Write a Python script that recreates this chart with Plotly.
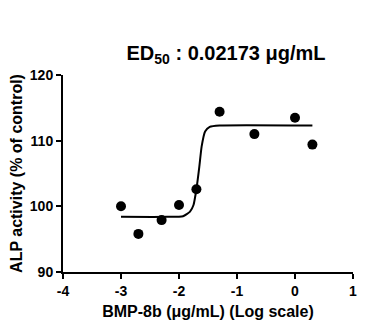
import plotly.graph_objects as go

# Measured points (log10 concentration, % of control)
log_conc = [-3.0, -2.7, -2.3, -2.0, -1.7, -1.3, -0.7, 0.0, 0.3]
activity = [100.0, 95.8, 97.9, 100.2, 102.6, 114.4, 111.0, 113.5, 109.4]

# Fitted curve
curve_x = [-3.0, -2.2, -1.93, -1.81, -1.75, -1.70, -1.65, -1.61, -1.55, -1.47, -1.3, 0.3]
curve_y = [98.4, 98.4, 98.5, 99.2, 100.2, 102.6, 106.0, 109.1, 111.4, 112.1, 112.3, 112.3]

x_ticks = [-4, -3, -2, -1, 0, 1]
y_ticks = [90, 100, 110, 120]

FONT = "Liberation Sans, Arial, sans-serif"

fig = go.Figure()
fig.add_trace(go.Scatter(x=curve_x, y=curve_y, mode="lines",
                         line=dict(color="black", width=2, shape="spline", smoothing=0.5),
                         hoverinfo="skip", showlegend=False))
fig.add_trace(go.Scatter(x=log_conc, y=activity, mode="markers",
                         marker=dict(color="black", size=10), showlegend=False))

fig.update_layout(
    width=381, height=334,
    margin=dict(l=63, r=28, t=75, b=62),
    paper_bgcolor="white", plot_bgcolor="white",
    font=dict(family=FONT, color="black"),
    title=dict(text="<b>ED<sub>50</sub> : 0.02173 μg/mL</b>", x=226/381, xanchor="center",
               y=1 - 53/334, yanchor="middle", font=dict(size=20, family=FONT)),
    xaxis=dict(range=[-4, 1], tickvals=x_ticks, ticktext=[f"<b>{v}</b>" for v in x_ticks],
               showline=True, linecolor="black", linewidth=2, ticks="outside",
               ticklen=5, tickwidth=2, tickcolor="black", showgrid=False, zeroline=False,
               tickfont=dict(size=14, family=FONT),
               title=dict(text="<b>BMP-8b (μg/mL) (Log scale)</b>", font=dict(size=16, family=FONT), standoff=8)),
    yaxis=dict(range=[90, 120], tickvals=y_ticks, ticktext=[f"<b>{v}</b>" for v in y_ticks],
               showline=True, linecolor="black", linewidth=2, ticks="outside",
               ticklen=5, tickwidth=2, tickcolor="black", showgrid=False, zeroline=False,
               tickfont=dict(size=14, family=FONT),
               title=dict(text="<b>ALP activity (% of control)</b>", font=dict(size=16, family=FONT), standoff=3)),
)

fig.write_html("out.html")
